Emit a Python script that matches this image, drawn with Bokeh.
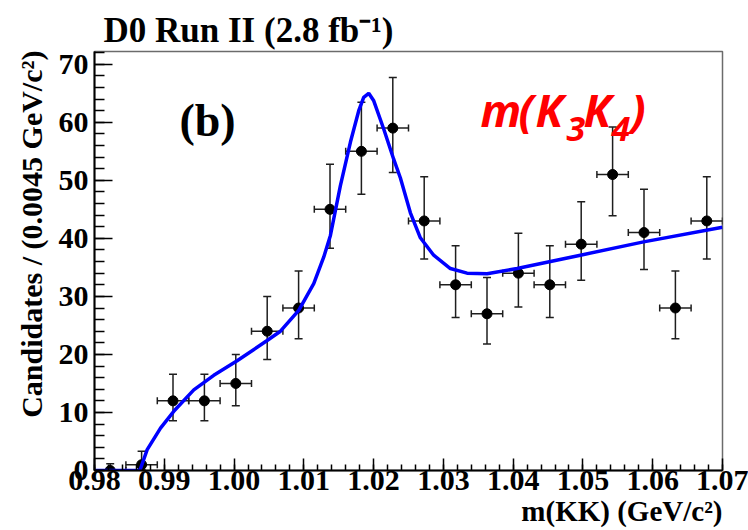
import numpy as np
from bokeh.plotting import figure
from bokeh.models import (ColumnDataSource, Range1d, FixedTicker, PrintfTickFormatter,
                          Whisker, TeeHead, Label, Title)
from bokeh.embed import file_html
from bokeh.resources import INLINE

# ---- data ----
bin_centers = [0.98225, 0.98675, 0.99125, 0.99575, 1.00025, 1.00475, 1.00925, 1.01375,
               1.01825, 1.02275, 1.02725, 1.03175, 1.03625, 1.04075, 1.04525, 1.04975,
               1.05425, 1.05875, 1.06325, 1.06775]
bin_half_width = 0.00225
counts = [0, 1, 12, 12, 15, 24, 28, 45, 55, 59, 43, 32, 27, 34, 32, 39, 51, 41, 28, 43]
err_low = [0.0, 0.17, 8.57, 8.57, 11.16, 19.13, 22.71, 38.31, 47.60, 51.34, 36.46, 26.37,
           21.80, 28.19, 26.37, 32.78, 43.88, 34.62, 22.71, 36.46]
err_high = [1.15, 3.30, 16.57, 16.57, 19.97, 29.97, 34.36, 52.76, 63.47, 67.73, 50.61, 38.72,
            33.27, 40.90, 38.72, 46.30, 59.19, 48.46, 34.36, 50.61]

fit_x = [0.9800, 0.9865, 0.98755, 0.98946, 0.99136, 0.99423, 0.99709, 1.00044, 1.00474,
         1.00665, 1.00927, 1.01142, 1.01286, 1.01381, 1.01524, 1.01668, 1.01787, 1.01858,
         1.01930, 1.02002, 1.02146, 1.02289, 1.02384, 1.02527, 1.02670, 1.02861, 1.03100,
         1.03339, 1.03626, 1.04056, 1.04963, 1.05869, 1.07000]
fit_y = [0.0, 0.0, 3.6, 7.3, 10.2, 13.9, 16.4, 18.9, 22.4, 24.0, 27.6, 32.2, 36.8, 40.5,
         49.1, 56.6, 62.0, 64.3, 65.0, 63.7, 58.8, 53.6, 50.4, 44.4, 40.1, 37.1, 34.8,
         34.0, 33.9, 34.8, 37.1, 39.4, 41.9]

x_major = [0.98, 0.99, 1.00, 1.01, 1.02, 1.03, 1.04, 1.05, 1.06, 1.07]
y_major = [0, 10, 20, 30, 40, 50, 60, 70]

title_text = "D0 Run II (2.8 fb\u207b\u00b9)"
panel_tag = "(b)"
x_title = "m(KK) (GeV/c\u00b2)"
y_title = "Candidates / (0.0045 GeV/c\u00b2)"
# red annotation m(K3K4), one piece per glyph
red_glyphs = ["m", "(", "K", "3", "K", "4", ")"]
red_is_sub = [False, False, False, True, False, True, False]

SERIF = "Liberation Serif"

p = figure(width=748, height=530, x_range=Range1d(0.98, 1.07), y_range=Range1d(0, 72.2),
           output_backend="svg", toolbar_location=None,
           min_border_left=94, min_border_right=26, min_border_top=51, min_border_bottom=60,
           background_fill_color="white", border_fill_color="white")
p.xgrid.visible = False
p.ygrid.visible = False
p.outline_line_color = "#6b6b6b"
p.outline_line_width = 1.5

p.title.text = title_text
p.title.align = "left"
p.title.offset = 9
p.title.standoff = 4
p.title.text_font = SERIF
p.title.text_font_style = "bold"
p.title.text_font_size = "35px"
p.title.text_color = "black"

x_minor = list(np.round(np.arange(0.98, 1.0701, 0.002), 4))
y_minor = list(range(0, 73, 2))
p.xaxis.ticker = FixedTicker(ticks=x_major, minor_ticks=x_minor)
p.yaxis.ticker = FixedTicker(ticks=y_major, minor_ticks=y_minor)
p.xaxis.formatter = PrintfTickFormatter(format="%.2f")

for ax in (p.xaxis, p.yaxis):
    ax.axis_line_color = "black"
    ax.axis_line_width = 2
    ax.major_tick_line_color = "black"
    ax.major_tick_line_width = 1.5
    ax.minor_tick_line_color = "black"
    ax.minor_tick_line_width = 1.5
    ax.major_tick_out = 0
    ax.minor_tick_out = 0
    ax.major_label_text_font = SERIF
    ax.major_label_text_font_style = "bold"
    ax.major_label_text_font_size = "30px"
    ax.major_label_text_color = "black"

p.xaxis.major_tick_in = 12
p.xaxis.minor_tick_in = 6
p.xaxis.major_label_standoff = 0
p.yaxis.major_tick_in = 18
p.yaxis.minor_tick_in = 10
p.yaxis.major_label_standoff = 6

# axis titles, ROOT style (aligned at the high end of each axis)
p.add_layout(Title(text=y_title, align="right", offset=-1, standoff=15, text_font=SERIF,
                   text_font_style="bold", text_font_size="30px", text_color="black"),
             "left")
p.add_layout(Title(text=x_title, align="right", standoff=0, text_font=SERIF,
                   text_font_style="bold", text_font_size="29px", text_color="black"),
             "below")

src = ColumnDataSource(dict(
    x=bin_centers, y=counts, lo=err_low, hi=err_high,
    xl=[c - bin_half_width for c in bin_centers],
    xu=[c + bin_half_width for c in bin_centers]))

bar_col = "#1e1e1e"
p.add_layout(Whisker(source=src, base="x", lower="lo", upper="hi", dimension="height",
                     line_color=bar_col, line_width=1.5,
                     upper_head=TeeHead(size=8, line_color=bar_col, line_width=1.5),
                     lower_head=TeeHead(size=8, line_color=bar_col, line_width=1.5)))
p.add_layout(Whisker(source=src, base="y", lower="xl", upper="xu", dimension="width",
                     line_color=bar_col, line_width=1.5,
                     upper_head=TeeHead(size=7, line_color=bar_col, line_width=1.5),
                     lower_head=TeeHead(size=7, line_color=bar_col, line_width=1.5)))

p.scatter("x", "y", source=src, size=10, color="black")
p.line(fit_x, fit_y, line_color="#0000ff", line_width=3.5)

# ---- texts inside the frame (screen units relative to the frame) ----
p.add_layout(Label(x=113, y=350, x_units="screen", y_units="screen", text=panel_tag,
                   text_font=SERIF, text_font_style="bold", text_font_size="46px",
                   text_align="center", text_baseline="alphabetic", text_color="black"))

red_x = [386, 424, 441, 472, 489, 517, 536]
for g, sub, sx in zip(red_glyphs, red_is_sub, red_x):
    p.add_layout(Label(x=sx, y=342 if sub else 361, x_units="screen", y_units="screen",
                       text=g, text_font="Open Sans", text_font_style="bold italic",
                       text_font_size="34px" if sub else "45px",
                       text_align="left", text_baseline="alphabetic", text_color="#ff0000"))

open("out.html", "w").write(file_html(p, INLINE))
